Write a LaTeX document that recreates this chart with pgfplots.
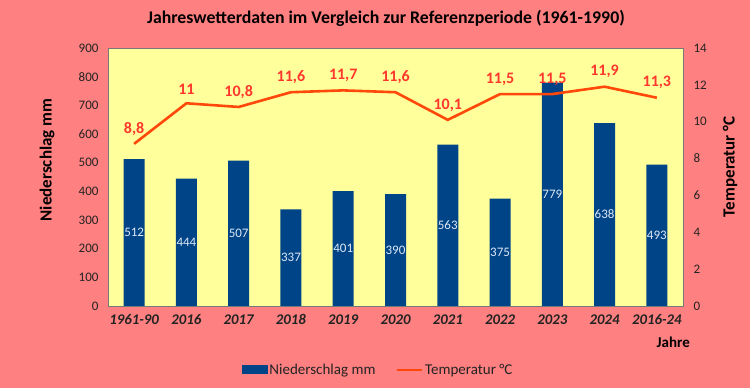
\documentclass[border=0pt]{standalone}
\usepackage{fontspec}
\setmainfont{Carlito}
\usepackage{pgfplots}
\pgfplotsset{compat=1.18}
\usepackage{pgfplotstable}
\definecolor{bgred}{RGB}{255,128,128}
\definecolor{plotyel}{RGB}{255,255,155}
\definecolor{barblue}{RGB}{0,68,136}
\definecolor{lineor}{RGB}{255,72,10}
\definecolor{lblred}{RGB}{255,55,45}
\definecolor{lbl}{RGB}{222,232,245}
\definecolor{txt}{RGB}{35,35,35}
\definecolor{axgray}{RGB}{120,120,120}

\pgfplotstableread{
x rain
0 512
1 444
2 507
3 337
4 401
5 390
6 563
7 375
8 779
9 638
10 493
}\raintab

\pgfplotstableread{
x temp lab
0 8.8 8,8
1 11.0 11
2 10.8 10,8
3 11.6 11,6
4 11.7 11,7
5 11.6 11,6
6 10.1 10,1
7 11.5 11,5
8 11.5 11,5
9 11.9 11,9
10 11.3 11,3
}\temptab

\begin{document}
\begin{tikzpicture}
\useasboundingbox (0,0) rectangle (750pt,388pt);
\fill[bgred] (0,0) rectangle (750pt,388pt);
\node[font=\fontsize{17.8}{20}\selectfont\bfseries, text=black] at (386pt,370pt) {Jahreswetterdaten im Vergleich zur Referenzperiode (1961-1990)};

\begin{axis}[
  at={(108pt,82pt)}, anchor=south west,
  scale only axis, width=575pt, height=258pt,
  xmin=-0.5, xmax=10.5, ymin=0, ymax=900,
  axis background/.style={fill=plotyel},
  axis line style={draw=axgray, line width=0.8pt},
  major tick length=0pt,
  xtick={0,...,10},
  xticklabels={1961-90,2016,2017,2018,2019,2020,2021,2022,2023,2024,2016-24},
  xticklabel style={font=\fontsize{14.8}{17}\selectfont\bfseries\itshape, text=txt, yshift=-5pt},
  ytick={0,100,...,900},
  yticklabel style={font=\fontsize{13}{15}\selectfont, text=txt, xshift=-6pt},
  /pgf/number format/assume math mode=true,
  ylabel={Niederschlag mm},
  ylabel style={at={(axis description cs:-0.106,0.566)}, anchor=center, font=\fontsize{17}{19}\selectfont\bfseries, text=black},
  xlabel={Jahre},
  xlabel style={at={(axis description cs:0.983,-0.14)}, anchor=center, font=\fontsize{15}{17}\selectfont\bfseries, text=black},
  ybar, bar width=21pt,
  nodes near coords,
  visualization depends on={rawy \as \rawy},
  every node near coord/.append style={anchor=center, yshift={-0.143333*\rawy}, font=\fontsize{13}{15}\selectfont, text=lbl},
]
\addplot[fill=barblue, draw=none] table[x=x, y=rain] {\raintab};
\end{axis}

\begin{axis}[
  at={(108pt,82pt)}, anchor=south west,
  scale only axis, width=575pt, height=258pt,
  xmin=-0.5, xmax=10.5, ymin=0, ymax=14,
  axis x line=none,
  axis y line*=right,
  axis line style={draw=axgray, line width=0.8pt},
  major tick length=0pt,
  ytick={0,2,...,14},
  yticklabel style={font=\fontsize{13}{15}\selectfont, text=txt, xshift=7pt},
  /pgf/number format/assume math mode=true,
  ylabel={Temperatur °C},
  ylabel style={at={(axis description cs:1.082,0.54)}, anchor=center, rotate=0, font=\fontsize{17}{19}\selectfont\bfseries, text=black},
  legend style={at={(0.47,-0.248)}, anchor=center, draw=none, fill=none, font=\fontsize{15}{17}\selectfont, text=txt, legend columns=2, /tikz/every even column/.append style={column sep=18pt}},
]
\addlegendimage{legend image code/.code={\fill[barblue] (0pt,-3.5pt) rectangle (25pt,4.5pt);}}
\addlegendentry{Niederschlag mm}
\addplot[lineor, line width=2.6pt, mark=none,
  nodes near coords, point meta=explicit symbolic,
  every node near coord/.append style={anchor=south, yshift=4pt, font=\fontsize{16}{18}\selectfont\bfseries, text=lblred},
  legend image code/.code={\draw[lineor, line width=2.6pt] (0pt,0pt) -- (25pt,0pt);}
] table[x=x, y=temp, meta=lab] {\temptab};
\addlegendentry{Temperatur °C}
\end{axis}
\end{tikzpicture}
\end{document}
